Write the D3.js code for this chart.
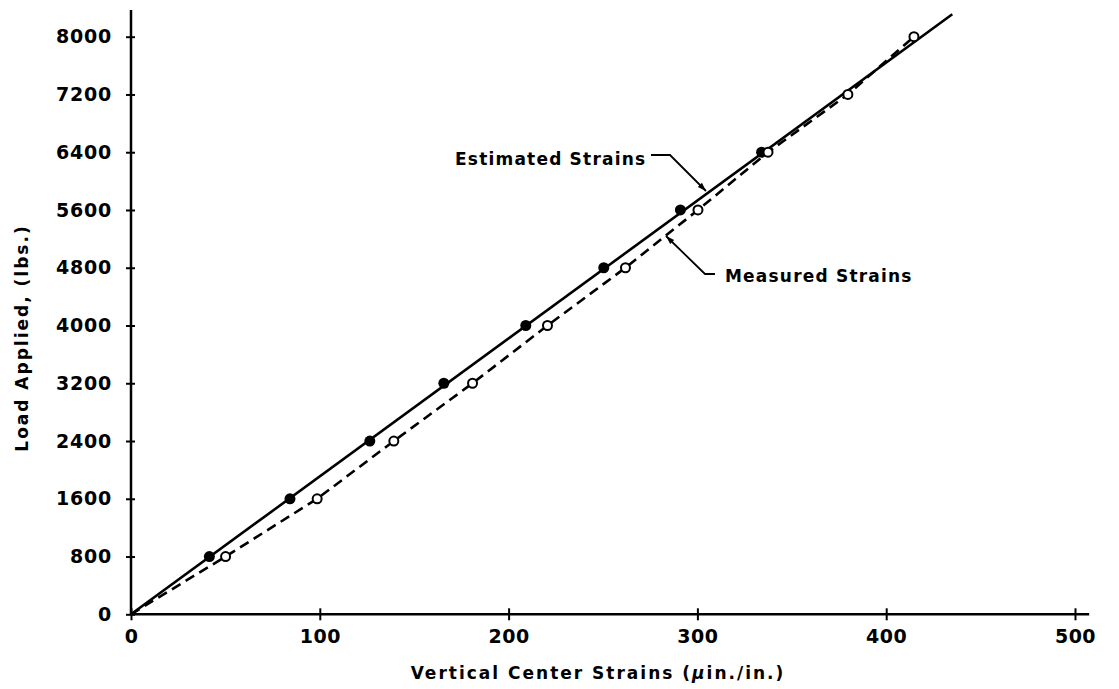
<!DOCTYPE html>
<html>
<head>
<meta charset="utf-8">
<script src="https://cdn.jsdelivr.net/npm/d3@7"></script>
<style>
  body { margin: 0; background: #fff; }
  text { font-family: "DejaVu Sans", sans-serif; fill: #000; }
</style>
</head>
<body>
<svg id="chart" width="1119" height="689"></svg>
<script>
// tick values
var xTicks = [0, 100, 200, 300, 400, 500];
var yTicks = [0, 800, 1600, 2400, 3200, 4000, 4800, 5600, 6400, 7200, 8000];

// loads (lbs.) at which strains were recorded
var estLoads = [800, 1600, 2400, 3200, 4000, 4800, 5600, 6400];
var estStrains = [41.5, 84.2, 126.5, 165.7, 209.1, 250.4, 291, 334];
var measLoads = [0, 800, 1600, 2400, 3200, 4000, 4800, 5600, 6400, 7200, 8000];
var measStrains = [0, 50.1, 98.6, 139.2, 180.9, 220.6, 261.9, 300.3, 337.4, 379.7, 414.7];

// estimated strain line (straight, runs past the last point)
var estLineStrains = [0, 435];
var estLineLoads = [0, 8310];

var svg = d3.select('#chart');

var x = d3.scaleLinear().domain([0, 500]).range([131, 1075]);
var y = d3.scaleLinear().domain([0, 8000]).range([614.3, 36.7]);

// axis lines run a little past the last tick
svg.append('line')
   .attr('x1', x(0)).attr('x2', x(507.5))
   .attr('y1', y(0)).attr('y2', y(0))
   .attr('stroke', '#000').attr('stroke-width', 2.5);
svg.append('line')
   .attr('x1', x(0)).attr('x2', x(0))
   .attr('y1', y(0)).attr('y2', y(8370))
   .attr('stroke', '#000').attr('stroke-width', 2.5);

var xAxis = svg.append('g')
   .attr('transform', 'translate(0,' + y(0) + ')')
   .call(d3.axisBottom(x).tickValues(xTicks).tickSize(6).tickPadding(9).tickFormat(d3.format('d')));
xAxis.select('.domain').remove();
xAxis.selectAll('.tick line').attr('y1', -6).attr('stroke-width', 2);
xAxis.selectAll('.tick text')
     .style('font-size', '19px').style('font-weight', 'bold').style('letter-spacing', '0.5px');

var yAxis = svg.append('g')
   .attr('transform', 'translate(' + x(0) + ',0)')
   .call(d3.axisLeft(y).tickValues(yTicks).tickSize(5).tickPadding(14).tickFormat(d3.format('d')));
yAxis.select('.domain').remove();
yAxis.selectAll('.tick line').attr('x1', 4).attr('stroke-width', 2);
yAxis.selectAll('.tick text')
     .style('font-size', '19px').style('font-weight', 'bold').style('letter-spacing', '0.8px');

// lines
var estLine = d3.line()
   .x(function(d, i) { return x(estLineStrains[i]); })
   .y(function(d) { return y(d); });
svg.append('path')
   .attr('d', estLine(estLineLoads))
   .attr('fill', 'none').attr('stroke', '#000').attr('stroke-width', 2.6);

var measLine = d3.line()
   .x(function(d, i) { return x(measStrains[i]); })
   .y(function(d) { return y(d); });
svg.append('path')
   .attr('d', measLine(measLoads))
   .attr('fill', 'none').attr('stroke', '#000').attr('stroke-width', 2.6)
   .attr('stroke-dasharray', '10,6');

// points
svg.selectAll('.est')
   .data(estLoads)
   .enter()
   .append('circle')
   .attr('class', 'est')
   .attr('cx', function(d, i) { return x(estStrains[i]); })
   .attr('cy', function(d) { return y(d); })
   .attr('r', 5.5)
   .style('fill', '#000');

svg.selectAll('.meas')
   .data(measLoads.slice(1))
   .enter()
   .append('circle')
   .attr('class', 'meas')
   .attr('cx', function(d, i) { return x(measStrains[i + 1]); })
   .attr('cy', function(d) { return y(d); })
   .attr('r', 4.5)
   .style('fill', '#fff').style('stroke', '#000').style('stroke-width', 2);

// arrow marker
svg.append('defs').append('marker')
   .attr('id', 'arrow')
   .attr('viewBox', '0 0 12 10')
   .attr('refX', 12).attr('refY', 5)
   .attr('markerWidth', 7).attr('markerHeight', 4)
   .attr('markerUnits', 'strokeWidth')
   .attr('orient', 'auto')
   .append('path').attr('d', 'M0,1L12,5L0,9z').attr('fill', '#000');

// annotations
svg.append('text')
   .attr('x', 455).attr('y', 165)
   .style('font-size', '17px').style('font-weight', 'bold').style('letter-spacing', '1.2px')
   .text('Estimated Strains');
svg.append('path')
   .attr('d', 'M651,155L670,155L706,191')
   .attr('fill', 'none').attr('stroke', '#000').attr('stroke-width', 1.8)
   .attr('marker-end', 'url(#arrow)');

svg.append('text')
   .attr('x', 725).attr('y', 282)
   .style('font-size', '17px').style('font-weight', 'bold').style('letter-spacing', '1.2px')
   .text('Measured Strains');
svg.append('path')
   .attr('d', 'M715,274L705,274L666,236')
   .attr('fill', 'none').attr('stroke', '#000').attr('stroke-width', 1.8)
   .attr('marker-end', 'url(#arrow)');

// axis titles
var xTitle = svg.append('text')
   .attr('x', 598).attr('y', 679)
   .attr('text-anchor', 'middle')
   .style('font-size', '17px').style('font-weight', 'bold').style('letter-spacing', '2px');
xTitle.append('tspan').text('Vertical Center Strains (');
xTitle.append('tspan').style('font-style', 'italic').text('\u03bc');
xTitle.append('tspan').text('in./in.)');

svg.append('text')
   .attr('transform', 'translate(28,338) rotate(-90)')
   .attr('text-anchor', 'middle')
   .style('font-size', '17px').style('font-weight', 'bold').style('letter-spacing', '2px')
   .text('Load Applied, (lbs.)');
</script>
</body>
</html>
